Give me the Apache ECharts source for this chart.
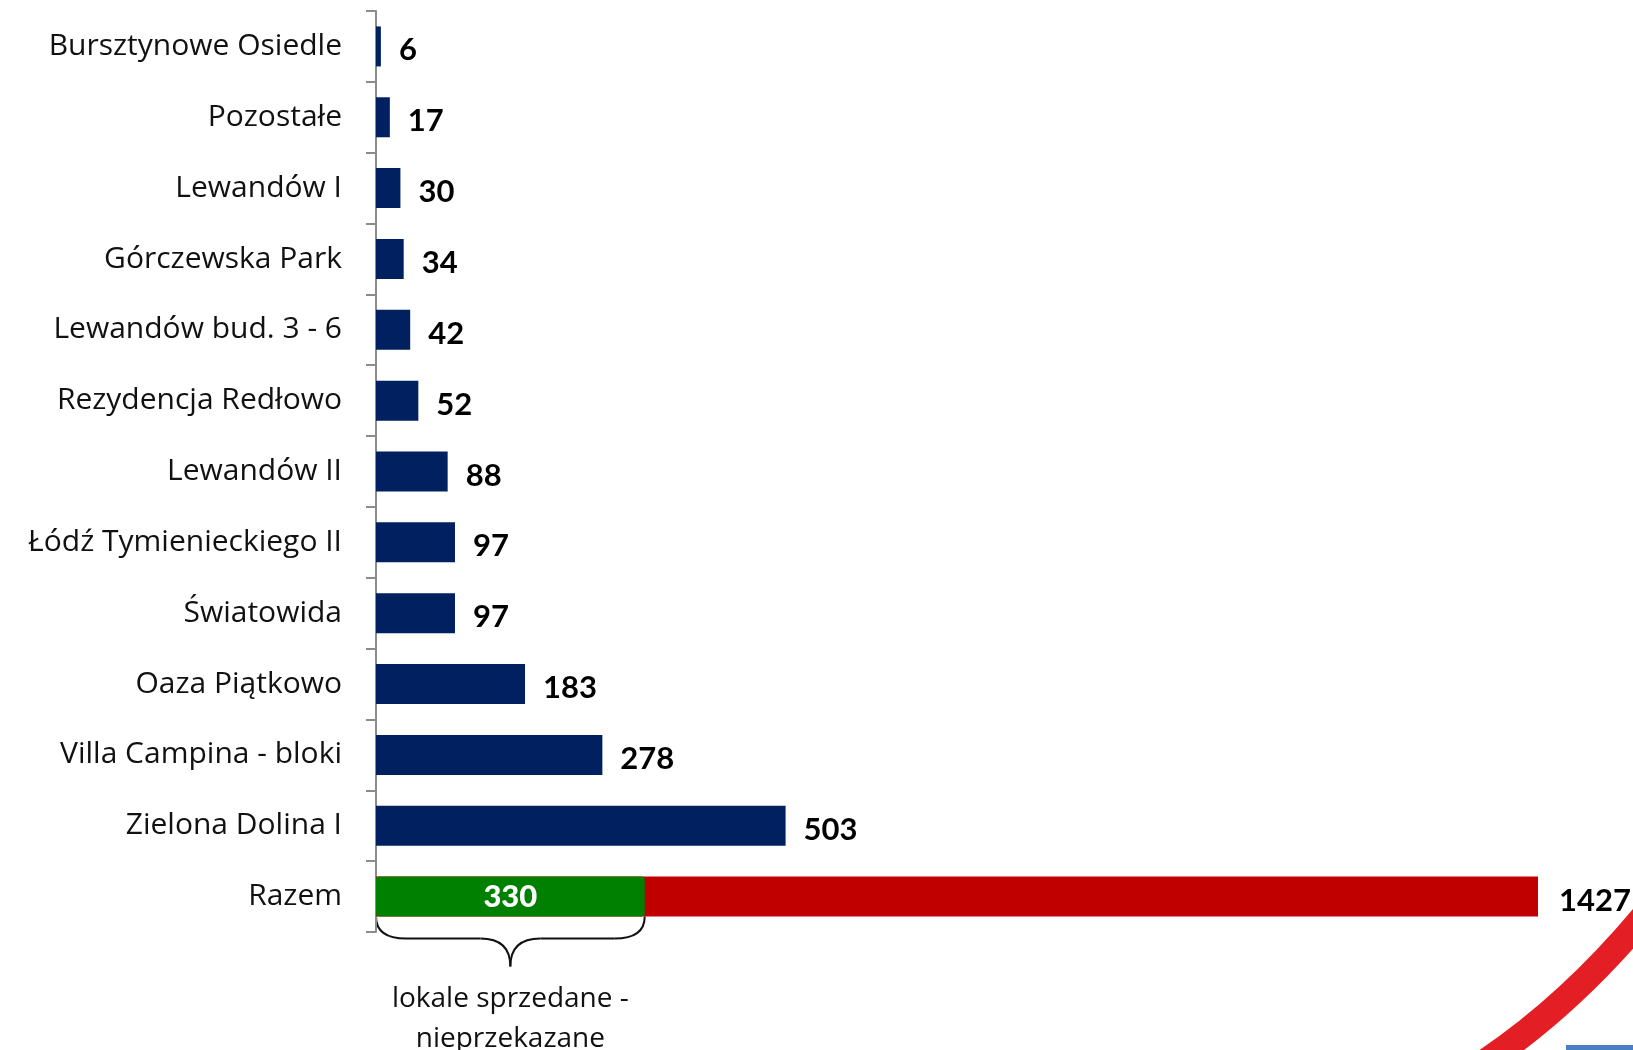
<!DOCTYPE html>
<html>
<head>
<meta charset="utf-8">
<script src="https://cdn.jsdelivr.net/npm/echarts@6/dist/echarts.min.js"></script>
<style>
html,body{margin:0;padding:0;background:#fff;}
#chart{width:1633px;height:1050px;}
</style>
</head>
<body>
<div id="chart"></div>
<script>
// ---- data ----
const categories = ['Bursztynowe Osiedle','Pozostałe','Lewandów I','Górczewska Park','Lewandów bud. 3 - 6','Rezydencja Redłowo','Lewandów II','Łódź Tymienieckiego II','Światowida','Oaza Piątkowo','Villa Campina - bloki','Zielona Dolina I','Razem'];
const projectValues = [6,17,30,34,42,52,88,97,97,183,278,503,null];
const totalValue = 1427;
const soldNotHandedValue = 330;
const braceText = 'lokale sprzedane -\nnieprzekazane';

const totalSeries = categories.map(c => c === 'Razem' ? totalValue : null);
const soldSeries = categories.map(c => c === 'Razem' ? soldNotHandedValue : null);

const FONT = '"Open Sans", Lato, sans-serif';
const VFONT = 'Lato, "Open Sans", sans-serif';
const chart = echarts.init(document.getElementById('chart'), null, {renderer:'canvas'});

const valueLabel = {
  show: true, position: 'right', distance: 18,
  fontFamily: VFONT, fontWeight: 'bold', fontSize: 31, color: '#000',
  offset: [0, 4]
};

const option = {
  animation: false,
  backgroundColor: '#fff',
  grid: {left: 376, right: 95, top: 11, bottom: 118},
  xAxis: {
    type: 'value', min: 0, max: totalValue, show: false
  },
  yAxis: {
    type: 'category', data: categories, inverse: true,
    axisLine: {show: true, lineStyle: {color: '#8c8c8c', width: 2}},
    axisTick: {show: true, length: 10, lineStyle: {color: '#8c8c8c', width: 2}},
    axisLabel: {fontFamily: FONT, fontSize: 30, color: '#111', margin: 34}
  },
  series: [
    {
      name: 'projekty', type: 'bar', data: projectValues, barWidth: 40, barGap: '-100%',
      itemStyle: {color: '#002060'},
      label: valueLabel
    },
    {
      name: 'razem', type: 'bar', data: totalSeries, barWidth: 40, barGap: '-100%',
      itemStyle: {color: '#C00000'},
      label: Object.assign({}, valueLabel, {distance: 21})
    },
    {
      name: 'sprzedane', type: 'bar', data: soldSeries, barWidth: 40, barGap: '-100%',
      itemStyle: {color: '#008000', borderRadius: 3},
      label: {show: true, position: 'inside', fontFamily: VFONT, fontWeight: 900, fontSize: 31, color: '#fff'}
    }
  ]
};
chart.setOption(option);

// brace under the green bar, positioned through the axes
const x0 = chart.convertToPixel({xAxisIndex: 0}, 0);
const x1 = chart.convertToPixel({xAxisIndex: 0}, soldNotHandedValue);
const yc = chart.convertToPixel({yAxisIndex: 0}, 'Razem');
const yTop = yc + 20;
const yMid = yTop + 22;
const yTip = yTop + 50;
const mid = (x0 + x1) / 2;
const bs = {stroke: '#111', lineWidth: 2, fill: null};
function curve(xa, ya, cx, cy, xb, yb) {
  return {type: 'bezierCurve', shape: {x1: xa, y1: ya, x2: xb, y2: yb, cpx1: cx, cpy1: cy}, style: bs};
}
function seg(xa, ya, xb, yb) {
  return {type: 'line', shape: {x1: xa, y1: ya, x2: xb, y2: yb}, style: bs};
}

chart.setOption({
  graphic: [
    curve(x0, yTop, x0, yMid, x0 + 30, yMid),
    seg(x0 + 30, yMid, mid - 30, yMid),
    curve(mid - 30, yMid, mid, yMid, mid, yTip),
    curve(mid, yTip, mid, yMid, mid + 30, yMid),
    seg(mid + 30, yMid, x1 - 30, yMid),
    curve(x1 - 30, yMid, x1, yMid, x1, yTop),
    {type: 'text', x: mid, y: yTip + 12, style: {text: braceText, fontFamily: FONT, fontSize: 28, fill: '#111', align: 'center', verticalAlign: 'top', lineHeight: 40}},
    {type: 'bezierCurve', shape: {x1: 1485, y1: 1062, cpx1: 1570, cpy1: 1005, x2: 1645, y2: 915}, style: {fill: null, stroke: '#E31E24', lineWidth: 26}},
    {type: 'rect', shape: {x: 1566, y: 1045, width: 67, height: 5}, style: {fill: '#4a7fc1'}}
  ]
});
</script>
</body>
</html>
